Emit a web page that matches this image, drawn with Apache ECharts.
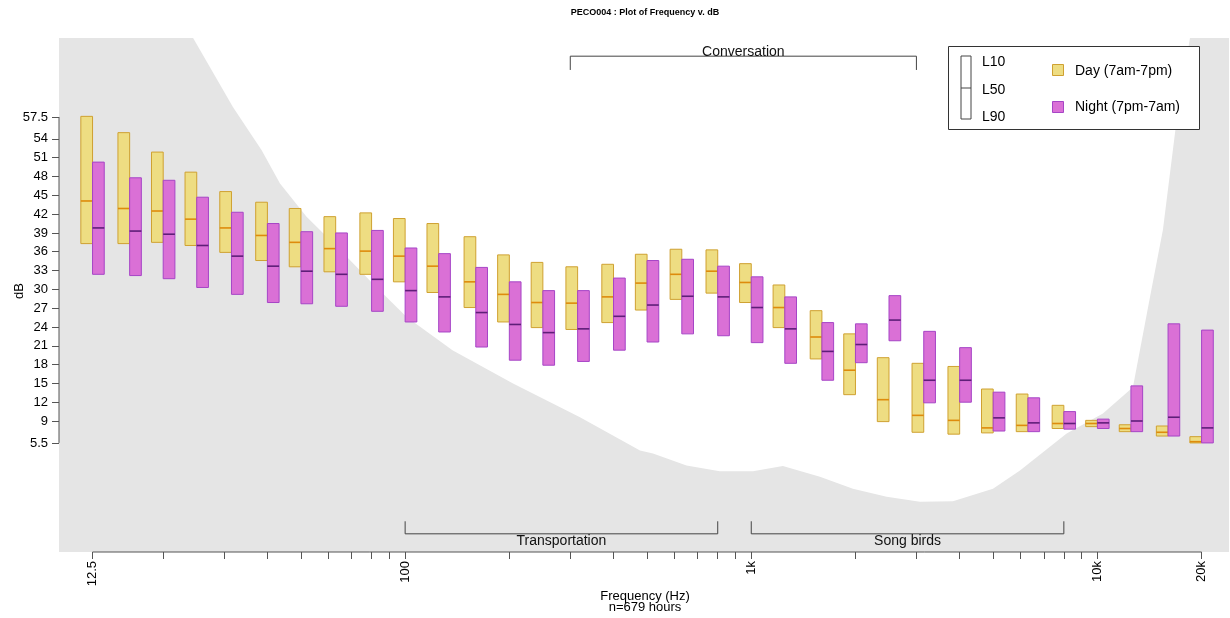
<!DOCTYPE html>
<html><head><meta charset="utf-8">
<script src="https://cdn.jsdelivr.net/npm/echarts@6/dist/echarts.min.js"></script>
<style>html,body{margin:0;padding:0;background:#fff}#c{width:1230px;height:618px}</style>
</head><body><div id="c"></div>
<script>
// ---------- data ----------
const bands = [12.5,16,20,25,31.5,40,50,63,80,100,125,160,200,250,315,400,500,630,800,1000,1250,1600,2000,2500,3150,4000,5000,6300,8000,10000,12500,16000,20000];
const dayL10 = [57.6,55.0,51.9,48.7,45.6,43.9,42.9,41.6,42.2,41.3,40.5,38.4,35.5,34.3,33.6,34.0,35.6,36.4,36.3,34.1,30.7,26.6,22.9,19.1,18.2,17.7,14.1,13.3,11.5,9.1,8.4,8.2,6.5];
const dayL50 = [44.1,42.9,42.5,41.2,39.8,38.6,37.5,36.5,36.1,35.3,33.7,31.2,29.2,27.9,27.8,28.8,31.0,32.4,32.9,31.1,27.1,22.4,17.1,12.4,9.9,9.1,7.9,8.3,8.6,8.6,7.8,7.2,5.7];
const dayL90 = [37.3,37.3,37.5,37.0,35.9,34.6,33.6,32.8,32.4,31.2,29.5,27.1,24.8,23.9,23.6,24.7,26.7,28.4,29.4,27.9,23.9,18.9,13.2,8.9,7.2,6.9,7.1,7.3,7.8,8.1,7.3,6.6,5.5];
const nightL10 = [50.3,47.8,47.4,44.7,42.3,40.5,39.2,39.0,39.4,36.6,35.7,33.5,31.2,29.8,29.8,31.8,34.6,34.8,33.7,32.0,28.8,24.7,24.5,29.0,23.3,20.7,13.6,12.7,10.5,9.3,14.6,24.5,23.5];
const nightL50 = [39.8,39.3,38.8,37.0,35.3,33.7,32.9,32.4,31.6,29.8,28.8,26.3,24.4,23.1,23.7,25.7,27.5,28.9,28.8,27.1,23.7,20.1,21.2,25.1,15.5,15.5,9.5,8.7,8.6,8.7,9.0,9.6,7.9];
const nightL90 = [32.4,32.2,31.7,30.3,29.2,27.9,27.7,27.3,26.5,24.8,23.2,20.8,18.7,17.9,18.5,20.3,21.6,22.9,22.6,21.5,18.2,15.5,18.3,21.8,11.9,12.0,7.4,7.3,7.7,7.8,7.3,6.6,5.5];

// audible-region boundary (frequency Hz, dB)
const curveFreq = [24.4,31.8,38.5,43.5,51.9,64.8,80.7,101,137,205,320,477,520,650,811,1011,1234,1579,1966,2461,3071,3825,4993,5975,8150,10375,12665,14190,15465,16940,18510];
const curveDb   = [70.1,59.1,52.2,46.9,41.6,36.3,30.9,25.6,20.3,15.0,9.6,4.3,3.8,1.9,1.0,1.0,1.8,0.1,-1.8,-3.1,-3.9,-3.8,-1.8,1.1,7.0,10.2,14.4,28.8,39.5,57.0,70.1];

const rangeNames = ['Conversation','Transportation','Song birds'];
const rangeLo = [300,100,1000];
const rangeHi = [3000,800,8000];

const yTickValues = [5.5,9,12,15,18,21,24,27,30,33,36,39,42,45,48,51,54,57.5];
const xTickValues = [12.5,20,30,40,50,60,70,80,90,100,200,300,400,500,600,700,800,900,1000,2000,3000,4000,5000,6000,7000,8000,9000,10000,20000];
const xLabelValues = [12.5,100,1000,10000,20000];
const xLabelTexts = ['12.5','100','1k','10k','20k'];

const X_MIN = 10, X_MAX = 24000, Y_MIN = -11.9, Y_MAX = 70.1;

// ---------- styles ----------
const FONT = '"Liberation Sans", Arial, sans-serif';
const DAY = {fill:'#EEDD82', stroke:'#CFA131', med:'#DE8B0C'};
const NIGHT = {fill:'#DA70D6', stroke:'#A645C6', med:'#5E1E78'};
const BOX_W = 11.7;

function boxRender(side, c) {
  return function (params, api) {
    const f = api.value(0);
    const pBot = api.coord([f, api.value(1)]);
    const pMed = api.coord([f, api.value(2)]);
    const pTop = api.coord([f, api.value(3)]);
    const x0 = side < 0 ? pTop[0] - BOX_W : pTop[0];
    return {type:'group', children:[
      {type:'rect', shape:{x:x0, y:pTop[1], width:BOX_W, height:pBot[1]-pTop[1]},
        style:{fill:c.fill, stroke:c.stroke, lineWidth:1}},
      {type:'line', shape:{x1:x0, y1:pMed[1], x2:x0+BOX_W, y2:pMed[1]},
        style:{stroke:c.med, lineWidth:1.6}}
    ]};
  };
}

const dayData = bands.map((f,i)=>[f, dayL90[i], dayL50[i], dayL10[i]]);
const nightData = bands.map((f,i)=>[f, nightL90[i], nightL50[i], nightL10[i]]);
const rangeData = rangeNames.map((n,i)=>[rangeLo[i], rangeHi[i], i]);

const chart = echarts.init(document.getElementById('c'), null, {renderer:'canvas'});
chart.setOption({
  animation:false,
  backgroundColor:'#fff',
  grid:{left:59, right:1, top:38, bottom:66, show:true, backgroundColor:'#e5e5e5', borderWidth:0},
  xAxis:{type:'log', logBase:10, min:X_MIN, max:X_MAX,
    axisLine:{show:false, onZero:false}, splitLine:{show:false},
    axisTick:{show:true, length:7, customValues:xTickValues, lineStyle:{color:'#555', width:1}},
    axisLabel:{show:true, customValues:xLabelValues, rotate:90, margin:9, color:'#000', fontSize:13, fontFamily:FONT,
      formatter:function(v){
        let best=0, bd=1e9;
        xLabelValues.forEach((x,i)=>{const d=Math.abs(Math.log(v/x)); if(d<bd){bd=d;best=i;}});
        return xLabelTexts[best];
      }}
  },
  yAxis:{type:'value', min:Y_MIN, max:Y_MAX,
    axisLine:{show:false, onZero:false}, splitLine:{show:false},
    axisTick:{show:true, length:7, customValues:yTickValues, lineStyle:{color:'#555', width:1}},
    axisLabel:{show:true, customValues:yTickValues, margin:11, color:'#000', fontSize:13, fontFamily:FONT,
      formatter:function(v){ return String(Math.round(v*10)/10); }}
  },
  graphic:[
    {type:'text', x:645, y:13, style:{text:'PECO004 : Plot of Frequency v. dB', font:'bold 9px '+FONT, fill:'#000', textAlign:'center', textVerticalAlign:'middle'}},
    {type:'text', x:19, y:291, rotation:Math.PI/2, style:{text:'dB', font:'13px '+FONT, fill:'#000', textAlign:'center', textVerticalAlign:'middle'}},
    {type:'text', x:645, y:596, style:{text:'Frequency (Hz)', font:'13px '+FONT, fill:'#000', textAlign:'center', textVerticalAlign:'middle'}},
    {type:'text', x:645, y:607, style:{text:'n=679 hours', font:'13px '+FONT, fill:'#000', textAlign:'center', textVerticalAlign:'middle'}},
    // legend
    {type:'rect', z:100, shape:{x:948.5, y:46.5, width:251, height:83}, style:{fill:'#fff', stroke:'#333', lineWidth:1}},
    {type:'rect', z:101, shape:{x:961, y:56, width:10, height:63}, style:{fill:'#fff', stroke:'#444', lineWidth:1}},
    {type:'line', z:101, shape:{x1:961, y1:88, x2:971, y2:88}, style:{stroke:'#444', lineWidth:1}},
    {type:'text', z:101, x:982, y:62, style:{text:'L10', font:'14px '+FONT, fill:'#000', textVerticalAlign:'middle'}},
    {type:'text', z:101, x:982, y:90, style:{text:'L50', font:'14px '+FONT, fill:'#000', textVerticalAlign:'middle'}},
    {type:'text', z:101, x:982, y:117, style:{text:'L90', font:'14px '+FONT, fill:'#000', textVerticalAlign:'middle'}},
    {type:'rect', z:101, shape:{x:1052.5, y:64.5, width:11, height:11}, style:{fill:DAY.fill, stroke:DAY.stroke, lineWidth:1}},
    {type:'text', z:101, x:1075, y:71, style:{text:'Day (7am-7pm)', font:'14px '+FONT, fill:'#000', textVerticalAlign:'middle'}},
    {type:'rect', z:101, shape:{x:1052.5, y:101.5, width:11, height:11}, style:{fill:NIGHT.fill, stroke:NIGHT.stroke, lineWidth:1}},
    {type:'text', z:101, x:1075, y:107, style:{text:'Night (7pm-7am)', font:'14px '+FONT, fill:'#000', textVerticalAlign:'middle'}}
  ],
  series:[
    {type:'custom', name:'audible', z:1, silent:true, clip:true,
      data:[[bands[0], yTickValues[0]]],
      renderItem:function(params, api){
        const pts = curveFreq.map((f,i)=>api.coord([f, curveDb[i]]));
        return {type:'polygon', shape:{points:pts}, style:{fill:'#fff', stroke:null}};
      }},
    {type:'custom', name:'ranges', z:2, silent:true, clip:false,
      data:rangeData,
      renderItem:function(params, api){
        const lo = api.value(0), hi = api.value(1), idx = api.value(2);
        const top = idx === 0;
        const yLine = top ? 67.2 : -9.0;
        const yEnd = top ? 65.0 : -7.0;
        const a = api.coord([lo, yLine]), b = api.coord([hi, yLine]);
        const ae = api.coord([lo, yEnd]), be = api.coord([hi, yEnd]);
        const st = {stroke:'#444', lineWidth:1, fill:null};
        return {type:'group', children:[
          {type:'polyline', shape:{points:[ae, a, b, be]}, style:st},
          {type:'text', x:(a[0]+b[0])/2, y: top ? a[1]+3 : a[1]+7,
            style:{text:rangeNames[idx], font:'14px '+FONT, fill:'#111', textAlign:'center', textVerticalAlign: top ? 'bottom' : 'middle'}}
        ]};
      }},
    {type:'custom', name:'Day (7am-7pm)', z:3, data:dayData, renderItem:boxRender(-1, DAY)},
    {type:'custom', name:'Night (7pm-7am)', z:4, data:nightData, renderItem:boxRender(1, NIGHT)},
    {type:'custom', name:'axes', z:5, silent:true, clip:false,
      data:[[bands[0], yTickValues[0]]],
      renderItem:function(params, api){
        const cs = params.coordSys;
        const xb = cs.y + cs.height;
        const x1 = api.coord([xTickValues[0], 0])[0], x2 = api.coord([xTickValues[xTickValues.length-1], 0])[0];
        const y1 = api.coord([bands[0], yTickValues[0]])[1], y2 = api.coord([bands[0], yTickValues[yTickValues.length-1]])[1];
        const st = {stroke:'#555', lineWidth:1};
        return {type:'group', children:[
          {type:'line', shape:{x1:x1, y1:xb, x2:x2, y2:xb}, style:st},
          {type:'line', shape:{x1:cs.x, y1:y1, x2:cs.x, y2:y2}, style:st}
        ]};
      }}
  ]
});
</script>
</body></html>
